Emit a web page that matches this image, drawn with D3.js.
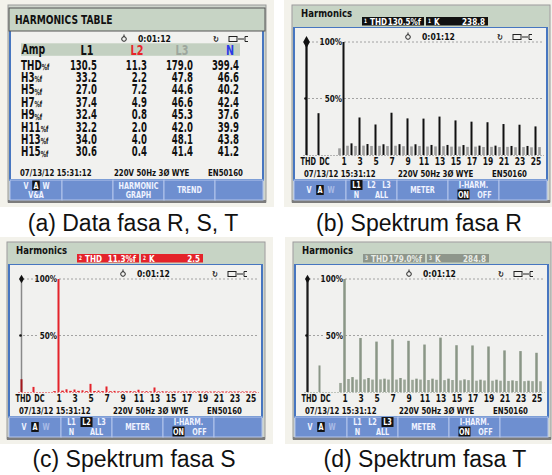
<!DOCTYPE html>
<html>
<head>
<meta charset="utf-8">
<script src="https://cdn.jsdelivr.net/npm/d3@7"></script>
<style>
  body { margin: 0; background: #fff; }
  svg { display: block; }
</style>
</head>
<body>
<svg id="chart" width="552" height="475"></svg>
<script>
const tableRows = ['THD', 'H3', 'H5', 'H7', 'H9', 'H11', 'H13', 'H15'];
const tableCols = ['L1', 'L2', 'L3', 'N'];
const ampL1 = [130.5, 33.2, 27.0, 37.4, 32.4, 32.2, 34.0, 30.6];
const ampL2 = [11.3, 2.2, 7.2, 4.9, 0.8, 2.0, 4.0, 0.4];
const ampL3 = [179.0, 47.8, 44.6, 46.6, 45.3, 42.0, 48.1, 41.4];
const ampN  = [399.4, 46.6, 40.2, 42.4, 37.6, 39.9, 43.8, 41.2];

const orders = [1,2,3,4,5,6,7,8,9,10,11,12,13,14,15,16,17,18,19,20,21,22,23,24,25];
const orderTicks = [1,3,5,7,9,11,13,15,17,19,21,23,25];
const interOrders = [0.5,1.5,2.5,3.5,4.5,5.5,6.5,7.5,8.5,9.5,10.5,11.5,12.5,13.5,14.5,15.5,16.5,17.5,18.5,19.5,20.5,21.5,22.5,23.5,24.5,25.5];
const leftCats = ['THD', 'DC'];

// phase R (L1)
const thdR = 130.5, dcR = 37, kR = 238.8;
const harmR  = [100,10.3,33.2,9.7,27.0,9.5,37.4,9.6,32.4,9.5,32.2,8.9,34.0,8.9,30.6,8.8,29.5,8.3,29.0,8.3,27.4,8.0,26.8,8.0,25.3];
const interR = [5.9,8.2,8.0,8.3,8.0,8.1,7.9,8.2,7.8,7.6,8.0,7.5,7.6,7.8,7.4,7.5,7.2,7.4,7.1,7.2,7.0,7.2,6.9,7.0,6.8,7.0];
// phase S (L2)
const thdS = 11.3, dcS = 4.5, kS = 2.5;
const harmS  = [100,2.4,2.2,1.5,7.2,1.2,4.9,1.0,0.8,0.9,2.0,0.8,4.0,0.7,0.4,0.6,0.5,0.6,0.5,0.5,0.5,0.5,0.5,0.5,0.5];
const interS = [0.8,1.2,1.0,1.0,0.8,0.9,0.8,0.7,0.6,0.7,0.6,0.6,0.6,0.5,0.5,0.5,0.5,0.5,0.5,0.5,0.5,0.5,0.5,0.5,0.5,0.5];
// phase T (L3)
const thdT = 179.0, dcT = 23.5, kT = 284.8;
const harmT  = [100,13.2,47.8,12.4,44.6,11.8,46.6,12.4,45.3,11.8,42.0,11.8,48.1,11.8,41.4,11.2,41.2,10.9,40.3,10.9,36.8,10.3,36.2,10.0,34.7];
const interT = [8.0,11.5,11.0,11.2,11.0,11.2,11.0,11.0,11.0,10.8,11.0,10.6,10.8,10.5,10.6,10.3,10.5,10.0,10.2,10.0,10.0,9.8,9.8,9.6,9.6,9.5];

const captions = ['(a) Data fasa R, S, T', '(b) Spektrum fasa R', '(c) Spektrum fasa S', '(d) Spektrum fasa T'];

// ---- drawing ----
const FONT = "'DejaVu Sans Condensed','DejaVu Sans',sans-serif";
const SAGE = '#c7d4c5', SCREEN = '#f1f1ef', BLUE = '#4776c0', KEY = '#6e8fd0';
const svg = d3.select('#chart');

// the analyser font is narrow, so text gets squeezed horizontally
function label(g, x, y, s, size, opt) {
  opt = opt || {};
  const sx = opt.sx || 0.8;
  return g.append('text')
    .attr('transform', `translate(${x},${y}) scale(${sx},1)`)
    .attr('dominant-baseline', 'central')
    .attr('text-anchor', opt.anchor || 'start')
    .attr('font-family', FONT)
    .attr('font-weight', 'bold')
    .attr('font-size', size)
    .attr('fill', opt.fill || '#111')
    .text(s);
}

// boxed (inverted) word on a key
function boxed(g, cx, cy, s, size) {
  const w = s.length * size * 0.5 + 3;
  g.append('rect').attr('x', cx - w / 2).attr('y', cy - size * 0.55)
    .attr('width', w).attr('height', size * 1.1).attr('fill', '#111');
  label(g, cx, cy, s, size, { anchor: 'middle', fill: '#fff' });
}

function screenFrame(g) {
  g.append('rect').attr('x', -8).attr('y', -5).attr('width', 274).attr('height', 207).attr('fill', '#f3f2eb');
  g.append('rect').attr('x', 0).attr('y', 0).attr('width', 258).attr('height', 197)
    .attr('fill', '#cfd5cc').attr('stroke', '#9a9a9a');
  g.append('rect').attr('x', 2).attr('y', 22).attr('width', 253).attr('height', 153)
    .attr('fill', SCREEN).attr('stroke', BLUE).attr('stroke-width', 2);
  g.append('rect').attr('x', 0).attr('y', 195).attr('width', 258).attr('height', 3).attr('fill', '#7c7c7c');
}

function topRow(g, y) {
  g.append('circle').attr('cx', 116).attr('cy', y).attr('r', 2.3).attr('fill', 'none').attr('stroke', '#222').attr('stroke-width', 1);
  g.append('line').attr('x1', 116).attr('x2', 116).attr('y1', y - 4.5).attr('y2', y - 2).attr('stroke', '#222');
  label(g, 130, y, '0:01:12', 9.5, { sx: 0.9 });
  label(g, 205, y, '\u21bb', 8, { sx: 1 });
  g.append('rect').attr('x', 221).attr('y', y - 2.5).attr('width', 8).attr('height', 5).attr('fill', 'none').attr('stroke', '#222');
  g.append('path').attr('d', `M230,${y}h4 M240,${y - 2.5}h-3v5h3 M236,${y}h-2`).attr('stroke', '#222').attr('fill', 'none');
}

function statusRow(g, y) {
  label(g, 12, y, '07/13/12  15:31:12', 9.5, { sx: 0.82 });
  label(g, 106, y, '220V  50Hz 3\u00d8 WYE', 9.5, { sx: 0.82 });
  label(g, 200, y, 'EN50160', 9.5, { sx: 0.82 });
}

const keyEdges = [2, 54, 105, 156, 207, 255];
function keyBar(g) {
  for (let i = 0; i < 5; i++) {
    g.append('rect').attr('x', keyEdges[i]).attr('y', 175)
      .attr('width', keyEdges[i + 1] - keyEdges[i]).attr('height', 20)
      .attr('fill', KEY).attr('stroke', '#b4c5ec').attr('stroke-width', 1);
  }
}
const kc = i => (keyEdges[i] + keyEdges[i + 1]) / 2;
const KT = '#f0f3ff';

// ---- panel (a): harmonics table ----
function drawTable(ox, oy) {
  const g = svg.append('g').attr('transform', `translate(${ox},${oy})`);
  screenFrame(g);
  g.append('rect').attr('x', 1).attr('y', 3).attr('width', 256).attr('height', 23)
    .attr('fill', SAGE).attr('stroke', '#555');
  label(g, 7, 15, 'HARMONICS TABLE', 13, { sx: 0.78 });
  topRow(g, 34);

  g.append('rect').attr('x', 13).attr('y', 38.3).attr('width', 219).attr('height', 12.5).attr('fill', '#c3d0c1');
  label(g, 13.5, 44.5, 'Amp', 14, { sx: 0.74 });
  const colColor = { L1: '#111', L2: '#e8252a', L3: '#9da69d', N: '#2a3ce6' };
  const colHead = d3.scaleOrdinal().domain(tableCols).range([79, 129, 174, 222]);
  const colEdge = d3.scaleOrdinal().domain(tableCols).range([89, 139, 185, 231]);
  tableCols.forEach(c => label(g, colHead(c), 44.5, c, 14.5, { anchor: 'middle', fill: colColor[c], sx: 0.74 }));

  const rowY = d3.scalePoint().domain(tableRows).range([60, 146.8]);
  tableRows.forEach(r => {
    const t = label(g, 13, rowY(r), r, 14, { sx: 0.7 });
    t.append('tspan').attr('font-size', 8.5).attr('dy', 1.5).text('%f');
  });
  const cols = { L1: ampL1, L2: ampL2, L3: ampL3, N: ampN };
  tableCols.forEach(c => {
    g.selectAll(null).data(cols[c]).join('text')
      .attr('transform', (d, i) => `translate(${colEdge(c)},${rowY(tableRows[i])}) scale(0.68,1)`)
      .attr('dominant-baseline', 'central')
      .attr('text-anchor', 'end')
      .attr('font-family', FONT).attr('font-weight', 'bold').attr('font-size', 14)
      .attr('fill', '#111')
      .text(d => d.toFixed(1));
  });

  statusRow(g, 168);
  keyBar(g);
  label(g, kc(0) - 10, 180.5, 'V', 9, { anchor: 'middle', fill: KT });
  boxed(g, kc(0), 180.5, 'A', 9);
  label(g, kc(0) + 10, 180.5, 'W', 9, { anchor: 'middle', fill: KT });
  label(g, kc(0), 189.5, 'V&A', 9, { anchor: 'middle', fill: KT });
  label(g, kc(2), 180.5, 'HARMONIC', 9, { anchor: 'middle', fill: KT });
  label(g, kc(2), 189.5, 'GRAPH', 9, { anchor: 'middle', fill: KT });
  label(g, kc(3), 185, 'TREND', 9, { anchor: 'middle', fill: KT });
}

// ---- panels (b)-(d): harmonic spectrum ----
function drawSpectrum(ox, oy, cfg) {
  const g = svg.append('g').attr('transform', `translate(${ox},${oy})`);
  screenFrame(g);
  g.append('rect').attr('x', 1).attr('y', 1).attr('width', 256).attr('height', 21).attr('fill', SAGE);
  label(g, 9, 8, 'Harmonics', 10, { sx: 0.95 });
  // THD and K readouts
  [[70, 'THD', cfg.thd.toFixed(1) + '%f'], [134, 'K', cfg.k.toFixed(1)]].forEach(([bx, name, val]) => {
    g.append('rect').attr('x', bx).attr('y', 12).attr('width', 62).attr('height', 8.5).attr('fill', cfg.boxFill);
    label(g, bx + 2, 16, cfg.phase, 6, { fill: cfg.boxText });
    label(g, bx + 8, 16.5, name, 9.5, { fill: cfg.boxText, sx: 0.85 });
    label(g, bx + 59, 16.5, val, 9.5, { fill: cfg.boxText, sx: 0.85, anchor: 'end' });
  });
  topRow(g, 32);

  const x = d3.scaleLinear().domain([1, 25]).range([51.5, 243.5]);
  const xl = d3.scalePoint().domain(leftCats).range([14.5, 26.5]);
  const y = d3.scaleLinear().domain([0, 100]).range([150, 37]).clamp(true);

  // dotted reference lines
  [100, 50].forEach(v => {
    g.append('line').attr('x1', xl('THD') + 2).attr('x2', 252).attr('y1', y(v)).attr('y2', y(v))
      .attr('stroke', '#555').attr('stroke-dasharray', '1,3');
    g.append('rect').attr('x', 32).attr('y', y(v) - 5).attr('width', 18).attr('height', 10).attr('fill', SCREEN);
    label(g, 50, y(v), v + '%', 9.5, { anchor: 'end', sx: 0.85 });
  });
  g.append('line').attr('x1', xl('THD') - 3).attr('x2', 252).attr('y1', y(0) + 0.5).attr('y2', y(0) + 0.5)
    .attr('stroke', cfg.baseColor).attr('stroke-dasharray', '1,2');

  // interharmonics
  g.selectAll(null).data(interOrders).join('rect')
    .attr('x', d => x(d) - 1.3).attr('width', 2.6)
    .attr('y', (d, i) => y(cfg.inter[i])).attr('height', (d, i) => y(0) - y(cfg.inter[i]))
    .attr('fill', cfg.interColor);
  // harmonics
  g.selectAll(null).data(orders).join('rect')
    .attr('x', d => x(d) - cfg.barW / 2).attr('width', cfg.barW)
    .attr('y', (d, i) => y(cfg.harm[i])).attr('height', (d, i) => y(0) - y(cfg.harm[i]))
    .attr('fill', cfg.color);
  // cursor on THD
  g.append('line').attr('x1', xl('THD')).attr('x2', xl('THD')).attr('y1', y(100)).attr('y2', y(0))
    .attr('stroke', cfg.cursor).attr('stroke-width', 1.5);
  // THD and DC
  g.selectAll(null).data([cfg.thdVal, cfg.dc]).join('rect')
    .attr('x', (d, i) => xl(leftCats[i]) - 1).attr('width', 2)
    .attr('y', d => y(d)).attr('height', d => y(0) - y(d))
    .attr('fill', (d, i) => i === 0 ? cfg.thdColor : cfg.color);
  g.append('path').attr('d', d3.symbol(d3.symbolDiamond, cfg.diamond)())
    .attr('transform', `translate(${xl('THD')},${y(100)})`).attr('fill', '#111');
  g.append('circle').attr('cx', xl('THD') - 1).attr('cy', y(50)).attr('r', 1.3).attr('fill', '#111');

  // axis labels
  const ax = g.append('g').attr('transform', `translate(0,${y(0) + 1})`)
    .call(d3.axisBottom(x).tickValues(orderTicks).tickSize(0).tickPadding(2));
  const axl = g.append('g').attr('transform', `translate(0,${y(0) + 1})`)
    .call(d3.axisBottom(xl).tickSize(0).tickPadding(2));
  [ax, axl].forEach(a => {
    a.select('.domain').remove();
    a.attr('font-family', FONT).attr('font-size', 10.5).attr('font-weight', 'bold');
    a.selectAll('text').attr('fill', '#111').attr('transform', 'scale(0.8,1)');
  });
  // THD / DC labels run together as "THDDC" on the instrument
  axl.selectAll('text').attr('text-anchor', 'start')
    .attr('transform', 'scale(0.7,1)')
    .attr('x', (d, i) => i === 0 ? -6.5 / 0.7 : 0.3 / 0.7);

  statusRow(g, 169);
  keyBar(g);
  label(g, kc(0) - 11, 185, 'V', 9, { anchor: 'middle', fill: KT });
  boxed(g, kc(0), 185, 'A', 9);
  label(g, kc(0) + 11, 185, 'W', 9, { anchor: 'middle', fill: '#a9bbe6' });
  ['L1', 'L2', 'L3'].forEach((s, i) => {
    const cx = kc(1) - 15 + i * 15;
    if (i + 1 === cfg.active) boxed(g, cx, 180, s, 9);
    else label(g, cx, 180, s, 9, { anchor: 'middle', fill: KT });
  });
  label(g, kc(1) - 15, 189.5, 'N', 9, { anchor: 'middle', fill: KT });
  label(g, kc(1) + 10, 189.5, 'ALL', 9, { anchor: 'middle', fill: KT });
  label(g, kc(2), 185, 'METER', 9, { anchor: 'middle', fill: KT });
  label(g, kc(3), 180, 'I-HARM.', 9, { anchor: 'middle', fill: KT });
  boxed(g, kc(3) - 10, 189.5, 'ON', 9);
  label(g, kc(3) + 11, 189.5, 'OFF', 9, { anchor: 'middle', fill: KT });
}

drawTable(8, 5);
drawSpectrum(292, 5, {
  phase: '1', thd: thdR, k: kR, thdVal: thdR, dc: dcR, harm: harmR, inter: interR,
  color: '#111', interColor: '#9c9c9c', thdColor: '#111', cursor: '#111', baseColor: '#777',
  boxFill: '#111', boxText: '#fff', active: 1, diamond: 40, barW: 2
});
drawSpectrum(7, 242, {
  phase: '2', thd: thdS, k: kS, thdVal: thdS, dc: dcS, harm: harmS, inter: interS,
  color: '#e4232a', interColor: '#e4232a', thdColor: '#a3161b', cursor: '#8a8a8a', baseColor: '#e4232a',
  boxFill: '#e4232a', boxText: '#fff', active: 2, diamond: 22, barW: 2
});
drawSpectrum(293, 242, {
  phase: '3', thd: thdT, k: kT, thdVal: thdT, dc: dcT, harm: harmT, inter: interT,
  color: '#8a9687', interColor: '#9ba698', thdColor: '#1a1a1a', cursor: '#1a1a1a', baseColor: '#8e998b',
  boxFill: '#8e968b', boxText: '#e8ece6', active: 3, diamond: 22, barW: 2.5
});

// captions
const capPos = [[133, 231], [419, 231], [134, 467], [425, 467]];
svg.selectAll('.cap').data(captions).join('text')
  .attr('class', 'cap')
  .attr('x', (d, i) => capPos[i][0]).attr('y', (d, i) => capPos[i][1])
  .attr('text-anchor', 'middle')
  .attr('font-family', "'Liberation Sans', Arial, sans-serif")
  .attr('font-size', 23)
  .attr('fill', '#111')
  .text(d => d);
</script>
</body>
</html>
